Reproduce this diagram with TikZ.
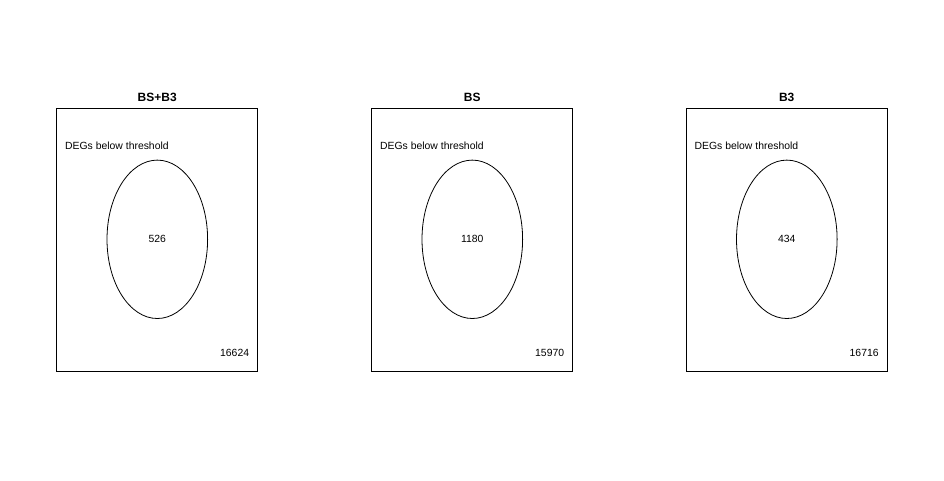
\documentclass[tikz,border=0pt]{standalone}
\usepackage{fontspec}
\setmainfont{Liberation Sans}
\usetikzlibrary{shapes.geometric, positioning}
\tikzset{
  panel/.style={
    rectangle, draw, line width=0.8pt, inner sep=0pt,
    minimum width=201pt, minimum height=263.4pt
  },
  setell/.style={ellipse, draw, line width=0.8pt, inner sep=0pt,
    minimum width=100.6pt, minimum height=158.4pt},
  ttl/.style={font=\fontsize{12}{14}\selectfont\bfseries},
  lbl/.style={font=\fontsize{10.4}{12}\selectfont, inner sep=0pt}
}

\begin{document}
\begin{tikzpicture}[x=1pt, y=-1pt]
  \useasboundingbox (0,0) rectangle (944,480);

  % BS+B3
  \node[panel] (boxa) at (157.2,240) {};
  \node[ttl] (ttla) at (157.2,97) {BS+B3};
  \node[lbl, anchor=west] (dega) at (65,145.5) {DEGs below threshold};
  \node[setell] (ella) at (157.3,239.3) {};
  \node[lbl] (ina) at (ella.center) {526};
  \node[lbl, anchor=east] (outa) at (249.3,352.5) {16624};

  % BS
  \node[panel] (boxb) at (472.2,240) {};
  \node[ttl] (ttlb) at (472.2,97) {BS};
  \node[lbl, anchor=west] (degb) at (380,145.5) {DEGs below threshold};
  \node[setell] (ellb) at (472.3,239.3) {};
  \node[lbl] (inb) at (ellb.center) {1180};
  \node[lbl, anchor=east] (outb) at (564.3,352.5) {15970};

  % B3
  \node[panel] (boxc) at (786.7,240) {};
  \node[ttl] (ttlc) at (786.7,97) {B3};
  \node[lbl, anchor=west] (degc) at (694.5,145.5) {DEGs below threshold};
  \node[setell] (ellc) at (786.8,239.3) {};
  \node[lbl] (inc) at (ellc.center) {434};
  \node[lbl, anchor=east] (outc) at (878.8,352.5) {16716};
\end{tikzpicture}
\end{document}
